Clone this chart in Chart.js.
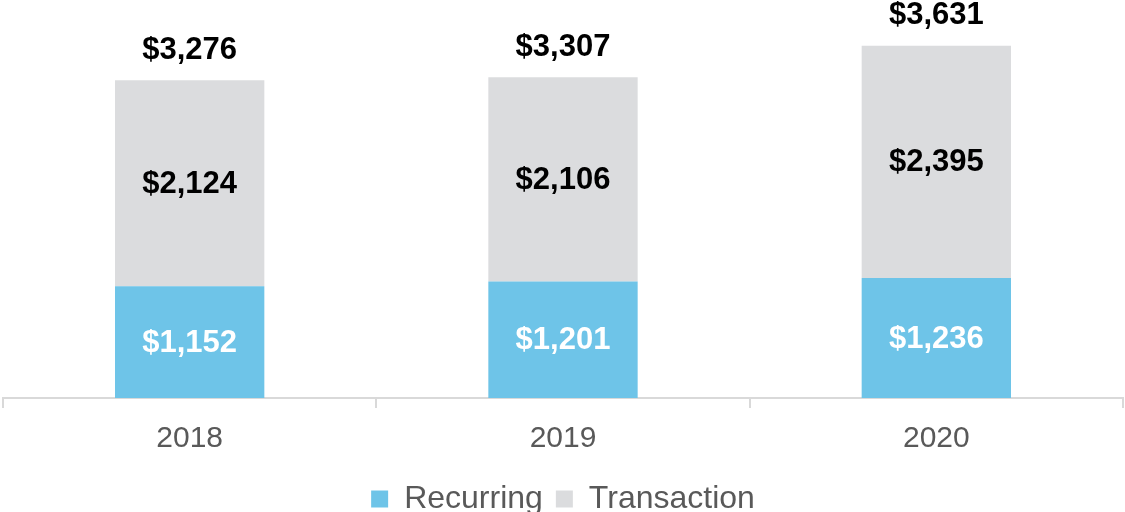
<!DOCTYPE html>
<html>
<head>
<meta charset="utf-8">
<script src="https://cdn.jsdelivr.net/npm/chart.js@4.4.1/dist/chart.umd.min.js"></script>
<style>
  html, body { margin: 0; padding: 0; background: #fff; }
  #wrap { width: 1125px; height: 512px; }
</style>
</head>
<body>
<div id="wrap"><canvas id="revenue-chart"></canvas></div>
<script>
// Revenue by type ($M)
const years = ['2018', '2019', '2020'];
const recurring = [1152, 1201, 1236];
const transaction = [2124, 2106, 2395];
const totals = [3276, 3307, 3631];

const BLUE = '#6EC4E8';
const GRAY = '#DBDCDE';
const FONT = "'Liberation Sans', Arial, sans-serif";

function money(v) {
  return '$' + v.toLocaleString('en-US');
}

// Draws values inside each segment and totals above the stack
const barLabels = {
  id: 'barLabels',
  afterDatasetsDraw(chart) {
    const ctx = chart.ctx;
    ctx.save();
    ctx.font = 'bold 31px ' + FONT;
    ctx.textAlign = 'center';
    ctx.textBaseline = 'middle';

    chart.data.datasets.forEach((ds, i) => {
      const meta = chart.getDatasetMeta(i);
      meta.data.forEach((bar, j) => {
        const { x, y, base } = bar.getProps(['x', 'y', 'base'], true);
        ctx.fillStyle = i === 0 ? '#ffffff' : '#000000';
        ctx.fillText(money(ds.data[j]), x, (y + base) / 2 + 1);
      });
    });

    const top = chart.getDatasetMeta(chart.data.datasets.length - 1);
    top.data.forEach((bar, j) => {
      ctx.fillStyle = '#000000';
      ctx.fillText(money(totals[j]), bar.x, bar.y - 30);
    });
    ctx.restore();
  }
};

new Chart(document.getElementById('revenue-chart'), {
  type: 'bar',
  data: {
    labels: years,
    datasets: [
      {
        label: 'Recurring',
        data: recurring,
        backgroundColor: BLUE,
        barPercentage: 0.4,
        categoryPercentage: 1.0
      },
      {
        label: 'Transaction',
        data: transaction,
        backgroundColor: GRAY,
        barPercentage: 0.4,
        categoryPercentage: 1.0
      }
    ]
  },
  options: {
    responsive: true,
    maintainAspectRatio: false,
    animation: false,
    layout: {
      padding: { top: 10, left: 3, right: 2, bottom: -13 }
    },
    scales: {
      x: {
        stacked: true,
        grid: {
          display: true,
          drawOnChartArea: false,
          offset: true,
          color: '#D9D9D9',
          lineWidth: 2,
          tickLength: 10
        },
        border: { color: '#D9D9D9', width: 2 },
        ticks: {
          color: '#595959',
          font: { family: FONT, size: 30 },
          padding: 13
        }
      },
      y: {
        stacked: true,
        display: false,
        min: 0,
        max: 4000
      }
    },
    plugins: {
      legend: {
        position: 'bottom',
        labels: {
          color: '#595959',
          font: { family: FONT, size: 32 },
          boxWidth: 17,
          boxHeight: 17,
          padding: 13
        }
      },
      tooltip: { enabled: false }
    }
  },
  plugins: [barLabels]
});
</script>
</body>
</html>
